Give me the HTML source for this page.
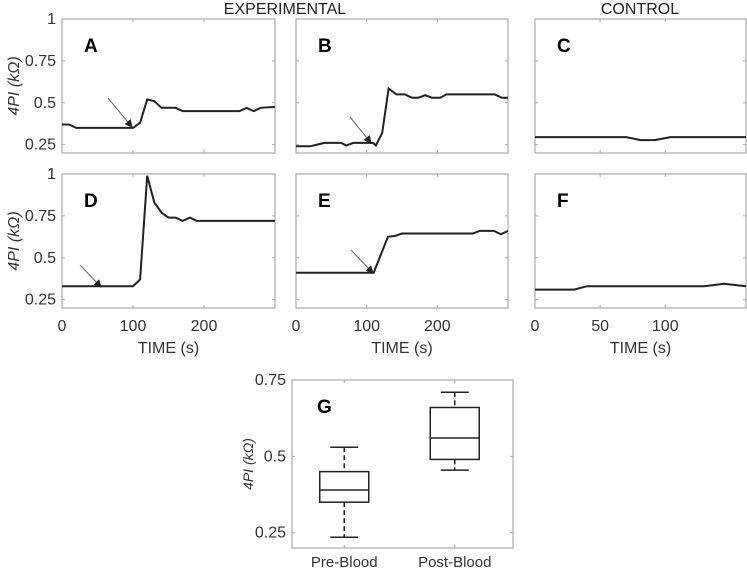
<!DOCTYPE html>
<html><head><meta charset="utf-8"><style>
body{margin:0;background:#fff;}
svg{display:block;font-family:"Liberation Sans",sans-serif;}
</style></head><body>
<svg id="fig" width="747" height="573" viewBox="0 0 747 573" xmlns="http://www.w3.org/2000/svg">
<text x="285" y="14" text-anchor="middle" font-size="16" fill="#222">EXPERIMENTAL</text>
<text x="640" y="14" text-anchor="middle" font-size="16" fill="#222">CONTROL</text>
</svg>
<script>
const tA=[0,10,20,30,100,110,120,130,140,160,170,250,260,270,280,300];
const vA=[0.37,0.37,0.35,0.35,0.35,0.38,0.52,0.51,0.47,0.47,0.45,0.45,0.47,0.45,0.47,0.475];
const tB=[0,20,30,40,64,71,81,109,113,122,131,142,154,164,173,183,192,204,213,281,291,300];
const vB=[0.24,0.24,0.25,0.26,0.26,0.245,0.26,0.26,0.245,0.32,0.585,0.55,0.55,0.53,0.53,0.545,0.53,0.53,0.55,0.55,0.53,0.53];
const tC=[0,70,81,92,104,162];
const vC=[0.295,0.295,0.277,0.277,0.295,0.295];
const tD=[0,100,110,120,130,140,150,160,170,180,190,300];
const vD=[0.33,0.33,0.37,0.99,0.83,0.77,0.74,0.74,0.72,0.74,0.72,0.72];
const tE=[0,110,130,140,150,250,260,280,290,300];
const vE=[0.41,0.41,0.625,0.63,0.645,0.645,0.66,0.66,0.64,0.66];
const tF=[0,30,40,130,145,162];
const vF=[0.31,0.31,0.33,0.33,0.345,0.33];
const yTicks=[0.25,0.5,0.75,1];
const yTickLabels=["0.25","0.5","0.75","1"];
const xTicksExp=[0,100,200];
const xTicksCtl=[0,50,100];
const boxCats=["Pre-Blood","Post-Blood"];
const boxMin=[0.235,0.455];
const boxQ1=[0.35,0.49];
const boxMed=[0.39,0.56];
const boxQ3=[0.45,0.66];
const boxMax=[0.53,0.71];
const gTicks=[0.25,0.5,0.75];
const gTickLabels=["0.25","0.5","0.75"];

const NS="http://www.w3.org/2000/svg";
const svg=document.getElementById('fig');
function mk(tag,attrs,parent){const e=document.createElementNS(NS,tag);for(const k in attrs)e.setAttribute(k,attrs[k]);(parent||svg).appendChild(e);return e;}
const defs=mk('defs',{});
const mrk=mk('marker',{id:'ah',markerWidth:'8',markerHeight:'8',refX:'7',refY:'4',orient:'auto',markerUnits:'userSpaceOnUse'},defs);
mk('path',{d:'M0,0 L8,4 L0,8 z',fill:'#222'},mrk);

const panels=[
 {id:'a',L:'A',x0:62,x1:275,y0:19,y1:153,xmax:300,t:tA,v:vA,ylab:true,xt:null,arrow:[108,98,132,127]},
 {id:'b',L:'B',x0:296,x1:508,y0:19,y1:153,xmax:300,t:tB,v:vB,ylab:false,xt:null,arrow:[350,117,371,143]},
 {id:'c',L:'C',x0:535,x1:746,y0:19,y1:153,xmax:162,t:tC,v:vC,ylab:false,xt:null,arrow:null},
 {id:'d',L:'D',x0:62,x1:275,y0:174,y1:308,xmax:300,t:tD,v:vD,ylab:true,xt:xTicksExp,arrow:[80,265,101,287]},
 {id:'e',L:'E',x0:296,x1:508,y0:174,y1:308,xmax:300,t:tE,v:vE,ylab:false,xt:xTicksExp,arrow:[351,250,373,273]},
 {id:'f',L:'F',x0:535,x1:746,y0:174,y1:308,xmax:162,t:tF,v:vF,ylab:false,xt:xTicksCtl,arrow:null}
];
panels.forEach(p=>{
 const g=mk('g',{});
 
 
 const xs=t=>p.x0+(t/p.xmax)*(p.x1-p.x0);
 const ys=v=>p.y1-(v-0.2)/0.8*(p.y1-p.y0);
 const fr=mk('rect',{x:p.x0,y:p.y0,width:p.x1-p.x0,height:p.y1-p.y0,fill:'none',stroke:'#aaa','stroke-width':1.2},g);
 
 
 yTicks.forEach((tv,i)=>{
  mk('line',{x1:p.x0,x2:p.x0+3,y1:ys(tv),y2:ys(tv),stroke:'#aaa'},g);
  mk('line',{x1:p.x1,x2:p.x1-3,y1:ys(tv),y2:ys(tv),stroke:'#aaa'},g);
  if(p.ylab){const tx=mk('text',{x:p.x0-6,y:ys(tv)+5,'text-anchor':'end','font-size':16,fill:'#333'},g);tx.textContent=yTickLabels[i];
   
   }
 });
 const xtv=p.xmax>200?xTicksExp:xTicksCtl;
 xtv.forEach(tv=>{
  mk('line',{x1:xs(tv),x2:xs(tv),y1:p.y1,y2:p.y1-3,stroke:'#aaa'},g);
  mk('line',{x1:xs(tv),x2:xs(tv),y1:p.y0,y2:p.y0+3,stroke:'#aaa'},g);
 });
 if(p.xt){p.xt.forEach(tv=>{const tx=mk('text',{x:xs(tv),y:p.y1+23,'text-anchor':'middle','font-size':16,fill:'#333'},g);tx.textContent=String(tv);
  
  });
  const xl=mk('text',{x:(p.x0+p.x1)/2,y:p.y1+45,'text-anchor':'middle','font-size':16,fill:'#333'},g);xl.textContent='TIME (s)';
  
  }
 if(p.ylab){const yl=mk('text',{x:0,y:0,transform:`translate(19,${(p.y0+p.y1)/2}) rotate(-90)`,'text-anchor':'middle','font-size':16,'font-style':'italic',fill:'#333'},g);yl.textContent='4PI (kΩ)';
  
  }
 const pts=p.t.map((t,i)=>xs(t).toFixed(1)+','+ys(p.v[i]).toFixed(1)).join(' ');
 const ln=mk('polyline',{points:pts,fill:'none',stroke:'#222','stroke-width':2},g);
 
 
 if(p.arrow){const a=mk('line',{x1:p.arrow[0],y1:p.arrow[1],x2:p.arrow[2],y2:p.arrow[3],stroke:'#666','stroke-width':1,'marker-end':'url(#ah)'},g);
  
  }
 const lt=mk('text',{x:p.x0+22,y:p.y0+33,'font-size':19,'font-weight':'bold',fill:'#000'},g);lt.textContent=p.L;
 
 
});

const G={x0:292,x1:513,y0:380,y1:548};
const gy=v=>G.y1-(v-0.2)/0.55*(G.y1-G.y0);
const gx=i=>G.x0+(i+0.5)/2*(G.x1-G.x0)-3;
const gg=mk('g',{});


const gf=mk('rect',{x:G.x0,y:G.y0,width:G.x1-G.x0,height:G.y1-G.y0,fill:'none',stroke:'#aaa','stroke-width':1.2},gg);


gTicks.forEach((tv,i)=>{
 mk('line',{x1:G.x0,x2:G.x0+3,y1:gy(tv),y2:gy(tv),stroke:'#aaa'},gg);
 mk('line',{x1:G.x1,x2:G.x1-3,y1:gy(tv),y2:gy(tv),stroke:'#aaa'},gg);
 const tx=mk('text',{x:G.x0-6,y:gy(tv)+5,'text-anchor':'end','font-size':16,fill:'#333'},gg);tx.textContent=gTickLabels[i];
 
 
});
const gyl=mk('text',{x:0,y:0,transform:`translate(253,${(G.y0+G.y1)/2}) rotate(-90)`,'text-anchor':'middle','font-size':14,'font-style':'italic',fill:'#333'},gg);gyl.textContent='4PI (kΩ)';


boxCats.forEach((c,i)=>{
 const cx=gx(i),w=49,cap=14;
 const b=mk('g',{},gg);
 
 
 mk('line',{x1:cx,x2:cx,y1:gy(boxMax[i]),y2:gy(boxQ3[i]),stroke:'#222','stroke-width':1.5,'stroke-dasharray':'5,3'},b);
 mk('line',{x1:cx,x2:cx,y1:gy(boxQ1[i]),y2:gy(boxMin[i]),stroke:'#222','stroke-width':1.5,'stroke-dasharray':'5,3'},b);
 mk('line',{x1:cx-cap,x2:cx+cap,y1:gy(boxMax[i]),y2:gy(boxMax[i]),stroke:'#222','stroke-width':1.5},b);
 mk('line',{x1:cx-cap,x2:cx+cap,y1:gy(boxMin[i]),y2:gy(boxMin[i]),stroke:'#222','stroke-width':1.5},b);
 mk('rect',{x:cx-w/2,y:gy(boxQ3[i]),width:w,height:gy(boxQ1[i])-gy(boxQ3[i]),fill:'#fff',stroke:'#222','stroke-width':1.5},b);
 mk('line',{x1:cx-w/2,x2:cx+w/2,y1:gy(boxMed[i]),y2:gy(boxMed[i]),stroke:'#222','stroke-width':1.5},b);
 mk('line',{x1:cx,x2:cx,y1:G.y1,y2:G.y1-3,stroke:'#aaa'},gg);
 mk('line',{x1:cx,x2:cx,y1:G.y0,y2:G.y0+3,stroke:'#aaa'},gg);
 const tx=mk('text',{x:cx,y:G.y1+19,'text-anchor':'middle','font-size':15,fill:'#333'},gg);tx.textContent=c;
 
 
});
const gl=mk('text',{x:317,y:413,'font-size':19,'font-weight':'bold',fill:'#000'},gg);gl.textContent='G';


</script>
</body></html>
